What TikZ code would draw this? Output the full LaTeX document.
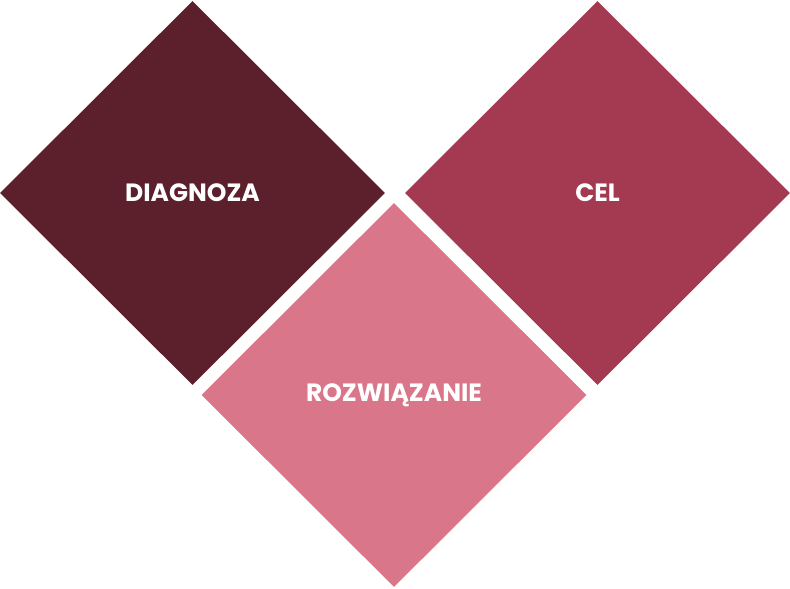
\documentclass[tikz,border=0pt]{standalone}
\usepackage{fontspec}
\setmainfont{Poppins}
\usetikzlibrary{shapes.geometric}

\definecolor{darkwine}{HTML}{5C1F2C}
\definecolor{midwine}{HTML}{A33A52}
\definecolor{lightwine}{HTML}{D9768A}

\begin{document}
\begin{tikzpicture}[x=1pt, y=-1pt, node distance=405pt]
		%define block styles
		\tikzset{
			tile/.style={diamond, aspect=1, minimum width=385pt, minimum height=384pt, inner sep=0pt, text=white, font=\fontsize{25}{28}\selectfont\bfseries},
		}
		\useasboundingbox (0,0) rectangle (790,589);
		%define nodes
		\node[tile, fill=darkwine] (diagnoza) at (192.5,193) {DIAGNOZA};
		\node[tile, fill=midwine, right of=diagnoza] (cel) {CEL};
		\node[tile, fill=lightwine, below of=diagnoza, node distance=202pt, xshift=201.5pt] (rozw) {ROZWIĄZANIE};
\end{tikzpicture}
\end{document}
